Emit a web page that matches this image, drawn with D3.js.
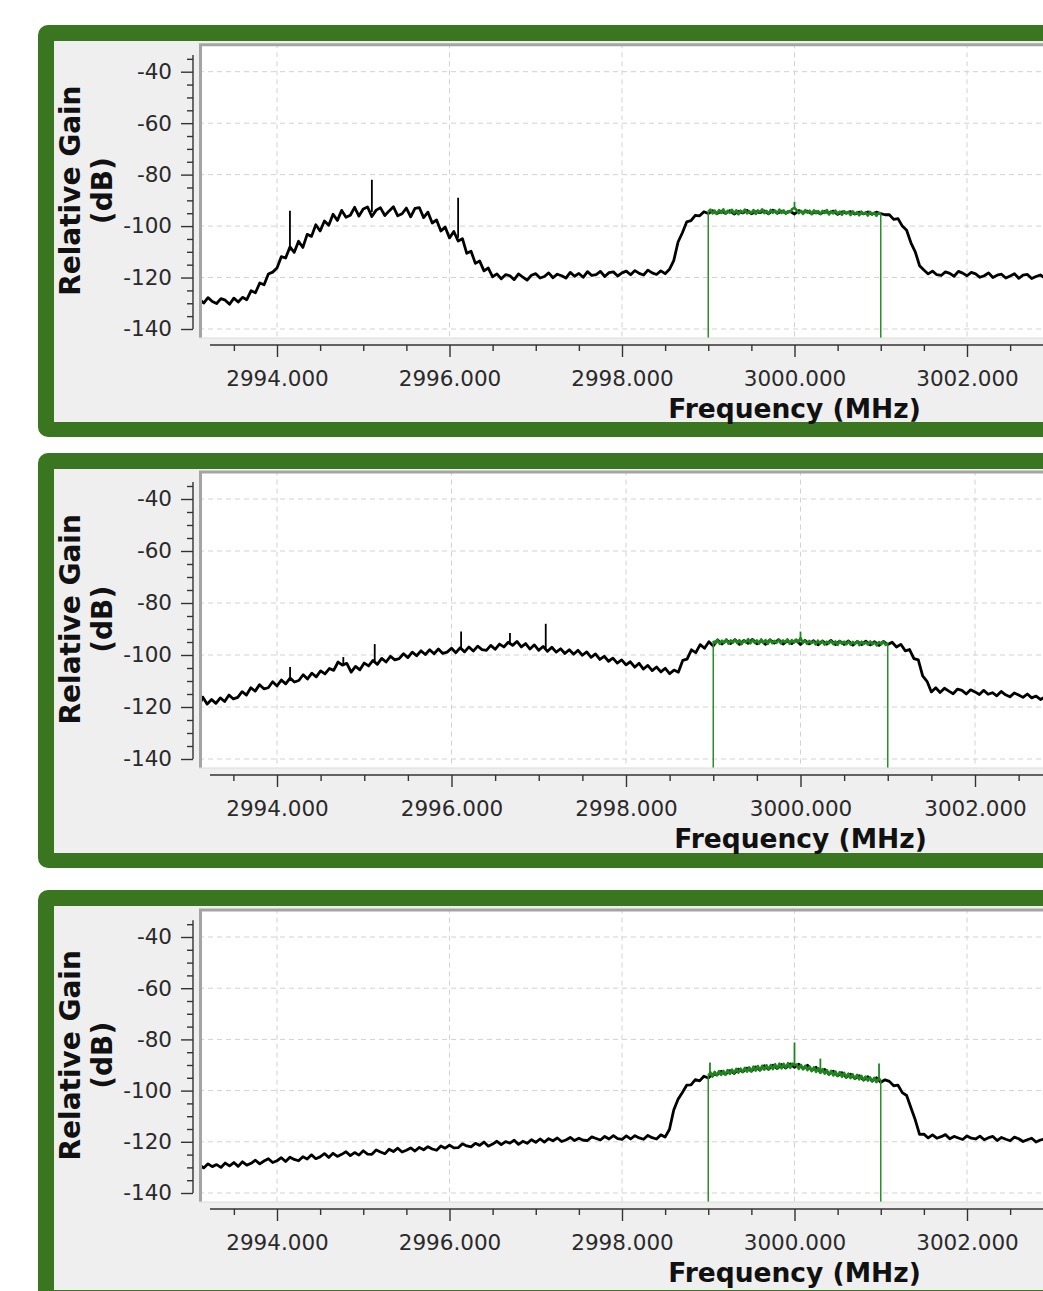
<!DOCTYPE html>
<html>
<head>
<meta charset="utf-8">
<title>Relative gain spectra</title>
<script src="https://cdn.jsdelivr.net/npm/d3@7"></script>
<style>
  body { margin: 0; background: #fff; }
  svg { display: block; font-family: "DejaVu Sans", sans-serif; }
</style>
</head>
<body>
<script>
// sampling grid of the traces (MHz)
const F0 = 2993.10, DF = 0.05;     // black traces
const G0 = 2999.00, GDF = 0.025;   // green (channel) traces
const FLOOR = -170;                // green trace is off outside the channel

const yTicks = [-40, -60, -80, -100, -120, -140];
const yMinor = [-35, -45, -50, -55, -65, -70, -75, -85, -90, -95, -105, -110, -115, -125, -130, -135];
const xTicks = [2994, 2996, 2998, 3000, 3002];
const xMinor = [2993.5, 2994.5, 2995, 2995.5, 2996.5, 2997, 2997.5, 2998.5, 2999, 2999.5,
                3000.5, 3001, 3001.5, 3002.5];

// ---- panel 1 ----
const trace1 = [
  -128.4,-129.9,-127.8,-129.3,-130.1,-128.2,-128.8,-130.4,-128.0,-129.5,
  -127.7,-128.6,-125.1,-125.9,-122.1,-122.8,-118.6,-117.9,-116.3,-111.9,
  -112.4,-108.1,-110.2,-105.9,-108.3,-103.2,-104.0,-99.5,-101.9,-98.0,
  -99.7,-95.4,-97.8,-93.9,-96.6,-95.8,-92.7,-96.1,-93.4,-92.6,
  -96.3,-93.8,-92.9,-95.9,-94.1,-92.5,-96.0,-95.2,-93.0,-96.4,
  -93.1,-92.8,-96.7,-94.6,-98.8,-97.6,-101.9,-100.4,-104.6,-102.1,
  -105.8,-104.9,-110.6,-109.8,-114.5,-113.6,-117.4,-116.3,-119.7,-118.6,
  -120.5,-118.9,-119.3,-120.8,-118.6,-119.8,-121.0,-119.1,-118.5,-120.2,
  -119.6,-118.2,-120.1,-118.7,-119.3,-120.2,-118.0,-119.5,-118.4,-119.9,
  -117.7,-119.2,-118.9,-117.6,-119.6,-118.1,-117.8,-119.4,-118.2,-117.5,
  -118.9,-117.3,-118.4,-119.0,-117.1,-118.2,-118.8,-117.4,-118.5,-116.8,
  -113.4,-106.2,-102.6,-98.4,-97.9,-95.8,-96.0,-94.4,-95.1,-94.0,
  -95.1,-94.2,-95.0,-94.0,-95.3,-94.3,-94.9,-93.9,-95.2,-94.4,
  -94.8,-94.1,-95.2,-93.8,-95.0,-94.2,-94.9,-94.3,-95.3,-94.0,
  -94.7,-94.2,-95.1,-94.4,-95.2,-94.3,-94.9,-94.2,-95.4,-94.5,
  -95.0,-94.4,-95.3,-94.6,-95.2,-94.5,-95.4,-94.6,-95.2,-95.6,
  -95.6,-97.4,-97.1,-100.0,-101.6,-106.5,-110.0,-115.4,-117.1,-118.6,
  -117.5,-118.9,-119.2,-117.8,-118.4,-119.5,-117.6,-118.3,-119.3,-118.0,
  -118.6,-119.9,-119.3,-118.2,-120.0,-119.1,-118.7,-120.2,-119.4,-118.5,
  -120.3,-119.1,-118.8,-120.4,-119.6,-119.0,-120.1
];
const green1 = [
  -94.4,-93.6,-95.1,-94.0,-95.3,-93.8,-94.9,-93.5,-95.2,-94.1,
  -94.8,-93.7,-95.0,-93.9,-95.4,-94.0,-94.7,-93.6,-95.1,-94.2,
  -94.9,-93.8,-95.3,-93.9,-94.6,-93.5,-95.0,-94.1,-95.2,-93.7,
  -94.8,-94.0,-95.1,-93.6,-94.9,-93.9,-95.2,-94.2,-94.5,-93.3,
  -92.9,-93.8,-95.0,-94.1,-95.3,-93.8,-94.8,-94.0,-95.4,-93.9,
  -95.0,-94.2,-95.3,-94.1,-94.9,-93.8,-95.5,-94.3,-95.1,-94.0,
  -95.2,-94.4,-95.6,-94.2,-95.0,-94.5,-95.7,-94.3,-95.2,-94.6,
  -95.8,-94.4,-95.3,-94.7,-95.9,-94.5,-95.4,-94.8,-96.0,-94.9,
  -95.3
];
// [frequency, base dB, peak dB]
const spikes1 = [[2994.15, -109.5, -94], [2995.10, -94.5, -82], [2996.10, -104.5, -89]];
const greenSpikes1 = [[3000.00, -93.5, -90.5]];

// ---- panel 2 ----
const trace2 = [
  -120.0,-116.2,-118.9,-117.1,-118.6,-116.5,-117.9,-115.4,-116.9,-116.3,
  -114.1,-115.4,-112.6,-113.9,-111.4,-113.0,-112.6,-110.3,-111.9,-109.6,
  -111.1,-108.9,-110.4,-109.8,-107.6,-109.2,-107.0,-108.4,-106.1,-107.3,
  -105.2,-105.9,-102.7,-103.9,-103.2,-106.6,-104.4,-105.7,-103.1,-104.2,
  -102.1,-103.6,-101.3,-102.7,-100.5,-101.9,-101.4,-99.5,-101.0,-98.9,
  -100.3,-98.4,-99.8,-98.0,-99.5,-97.7,-99.4,-98.9,-97.4,-99.1,
  -97.2,-98.8,-96.9,-98.5,-96.6,-97.9,-98.2,-96.3,-97.8,-95.8,
  -96.9,-95.1,-96.3,-94.8,-96.9,-95.6,-97.7,-96.1,-98.2,-96.7,
  -98.6,-97.0,-98.9,-97.6,-99.4,-98.0,-99.7,-98.2,-100.1,-98.8,
  -100.9,-99.6,-101.7,-100.5,-102.4,-101.2,-103.1,-101.9,-103.8,-102.6,
  -104.7,-103.2,-105.4,-104.0,-106.0,-104.6,-106.5,-105.1,-107.2,-105.8,
  -106.6,-102.1,-101.6,-98.0,-99.1,-96.0,-97.4,-94.9,-96.5,-94.2,
  -95.8,-94.3,-95.6,-94.1,-95.9,-94.4,-95.5,-94.0,-95.7,-94.5,
  -95.9,-94.2,-95.4,-94.1,-95.8,-94.6,-95.6,-94.3,-96.0,-94.4,
  -95.7,-94.5,-96.1,-94.6,-95.8,-94.4,-96.0,-94.7,-95.9,-94.6,
  -96.2,-94.8,-96.0,-94.7,-96.1,-94.9,-96.3,-94.8,-96.0,-95.1,
  -96.9,-95.9,-98.4,-97.9,-101.4,-101.9,-108.0,-110.1,-114.2,-112.6,
  -114.4,-112.8,-113.9,-114.9,-113.1,-113.6,-115.0,-113.4,-114.2,-115.2,
  -113.6,-115.1,-114.5,-115.7,-114.0,-115.3,-116.1,-114.6,-115.4,-116.3,
  -115.0,-116.5,-115.8,-117.1,-116.2,-115.7,-117.3
];
const green2 = [
  -94.6,-95.5,-94.2,-95.7,-94.5,-95.3,-94.0,-95.6,-94.4,-95.2,
  -94.1,-95.4,-94.3,-95.8,-94.5,-95.1,-93.9,-95.5,-94.2,-95.3,
  -94.4,-95.6,-94.0,-95.2,-94.3,-95.7,-94.1,-95.4,-94.6,-95.3,
  -94.2,-95.5,-94.4,-95.1,-94.0,-95.6,-94.3,-95.2,-94.1,-94.9,
  -93.5,-95.3,-94.5,-95.7,-94.6,-95.4,-94.8,-95.9,-94.5,-95.6,
  -94.7,-96.0,-94.9,-95.5,-94.6,-95.8,-94.8,-96.1,-94.7,-95.6,
  -94.9,-95.9,-94.8,-96.0,-95.0,-95.7,-94.7,-96.2,-94.9,-95.8,
  -95.1,-96.0,-94.8,-95.9,-95.2,-96.3,-95.0,-95.8,-94.9,-96.1,
  -95.4
];
const spikes2 = [[2994.15, -110, -104.6], [2994.76, -103.5, -100.8], [2995.12, -103, -95.8],
                 [2996.11, -98, -91], [2996.67, -96, -91.5], [2997.08, -97.5, -88]];
const greenSpikes2 = [[3000.00, -94.5, -91]];

// ---- panel 3 ----
const trace3 = [
  -129.0,-130.2,-128.6,-129.7,-128.9,-130.0,-128.3,-129.4,-128.1,-129.6,
  -127.8,-129.1,-128.4,-127.2,-128.6,-127.5,-126.6,-128.1,-127.4,-126.2,
  -127.7,-126.0,-126.9,-127.4,-125.8,-126.7,-125.1,-126.6,-125.9,-124.6,
  -126.1,-124.5,-125.7,-124.9,-123.9,-125.4,-124.2,-125.2,-123.5,-124.8,
  -124.9,-123.2,-124.0,-124.7,-122.9,-123.8,-122.5,-124.0,-123.3,-122.4,
  -123.6,-122.2,-123.1,-121.9,-122.8,-123.3,-121.6,-122.5,-121.3,-122.4,
  -122.3,-120.8,-121.6,-122.0,-120.6,-121.4,-120.1,-121.7,-120.9,-119.8,
  -121.1,-119.9,-120.5,-119.4,-121.0,-119.8,-120.6,-119.2,-120.2,-118.9,
  -120.1,-118.8,-119.6,-118.5,-119.9,-119.3,-118.3,-119.5,-118.6,-119.4,
  -119.5,-118.1,-118.7,-119.3,-117.9,-118.9,-117.6,-118.8,-119.1,-117.7,
  -118.9,-117.6,-118.5,-119.0,-117.5,-118.4,-118.9,-117.3,-118.1,-115.2,
  -107.6,-103.4,-100.7,-97.9,-97.8,-95.7,-96.2,-94.4,-95.1,-93.6,
  -93.9,-92.5,-93.6,-92.2,-93.3,-91.6,-92.7,-91.2,-92.4,-90.8,
  -92.0,-90.3,-91.7,-90.1,-91.4,-89.8,-91.2,-89.6,-90.9,-89.7,
  -91.4,-90.1,-92.1,-90.9,-92.8,-91.7,-93.6,-92.4,-94.2,-93.0,
  -94.8,-93.6,-95.3,-94.2,-95.9,-94.6,-96.3,-95.0,-96.7,-95.8,
  -96.4,-98.1,-97.9,-100.8,-101.9,-106.7,-111.4,-117.1,-117.0,-118.5,
  -117.3,-118.6,-118.0,-117.2,-118.8,-117.9,-118.5,-119.1,-117.7,-118.6,
  -118.9,-117.8,-119.2,-118.4,-117.9,-119.5,-118.3,-119.0,-119.6,-118.2,
  -118.8,-119.9,-119.2,-118.6,-120.1,-119.3,-118.9
];
const green3 = [
  -94.3,-92.9,-94.5,-92.7,-94.0,-92.4,-93.9,-92.3,-93.8,-92.0,
  -93.5,-91.8,-93.2,-91.5,-93.0,-91.4,-92.7,-91.1,-92.6,-90.9,
  -92.5,-90.6,-92.2,-90.4,-92.1,-90.3,-91.8,-90.1,-91.7,-90.0,
  -91.6,-89.7,-91.4,-89.5,-91.3,-89.6,-91.0,-89.3,-91.1,-89.5,
  -90.0,-89.8,-91.5,-90.0,-91.7,-90.3,-92.0,-90.6,-92.4,-90.9,
  -92.7,-91.2,-93.1,-91.6,-93.4,-92.0,-93.8,-92.3,-94.1,-92.6,
  -94.3,-92.8,-94.6,-93.1,-94.8,-93.4,-95.1,-93.7,-95.4,-93.9,
  -95.6,-94.2,-95.9,-94.5,-96.1,-94.8,-96.4,-95.0,-96.7,-95.3,
  -96.0
];
const spikes3 = [];
const greenSpikes3 = [[2999.02, -94, -89], [3000.00, -90.5, -81.2], [3000.30, -92, -87.5], [3000.98, -95.5, -89.4]];

// ---- layout ----
const W = 1043, H = 1291;
const panels = [
  {top: 25,  bottom: 437,  y40: 71.7, y140: 329,  x2994: 277, x3002: 967,
   trace: trace1, green: green1, spikes: spikes1, gSpikes: greenSpikes1},
  {top: 453, bottom: 868,  y40: 499,  y140: 759,  x2994: 277, x3002: 975,
   trace: trace2, green: green2, spikes: spikes2, gSpikes: greenSpikes2},
  {top: 890, bottom: 1305, y40: 937,  y140: 1193, x2994: 277, x3002: 967,
   trace: trace3, green: green3, spikes: spikes3, gSpikes: greenSpikes3}
];

const svg = d3.select("body").append("svg")
  .attr("width", W)
  .attr("height", H);

panels.forEach(drawPanel);

function drawPanel(p, i) {
  let g = svg.append("g");

  // green frame + grey widget background
  g.append("rect")
    .attr("x", 38).attr("y", p.top)
    .attr("width", 1100).attr("height", p.bottom - p.top)
    .attr("rx", 10)
    .attr("fill", "#3a761f");
  g.append("rect")
    .attr("x", 54).attr("y", p.top + 16)
    .attr("width", 1100).attr("height", p.bottom - p.top - 31)
    .attr("fill", "#efefef");

  let x = d3.scaleLinear().domain([2994, 3002]).range([p.x2994, p.x3002]);
  let y = d3.scaleLinear().domain([-140, -40]).range([p.y140, p.y40]);

  let cLeft = 199, cTop = p.y40 - 28.4, cBot = p.y140 + 9;

  // plot canvas
  g.append("rect")
    .attr("x", cLeft).attr("y", cTop)
    .attr("width", 1000).attr("height", cBot - cTop)
    .attr("fill", "#fff");

  svg.append("clipPath").attr("id", "clip" + i)
    .append("rect")
    .attr("x", cLeft + 2).attr("y", cTop + 2)
    .attr("width", 1000).attr("height", cBot - cTop - 2);

  let plot = g.append("g").attr("clip-path", "url(#clip" + i + ")");

  // dashed grid
  plot.selectAll(".gx").data(xTicks).enter().append("line")
    .attr("x1", d => x(d)).attr("x2", d => x(d))
    .attr("y1", cTop).attr("y2", cBot)
    .attr("stroke", "#d2d2d2").attr("stroke-dasharray", "5,4");
  plot.selectAll(".gy").data(yTicks).enter().append("line")
    .attr("x1", cLeft).attr("x2", cLeft + 1000)
    .attr("y1", d => y(d)).attr("y2", d => y(d))
    .attr("stroke", "#d2d2d2").attr("stroke-dasharray", "5,4");

  let line = d3.line()
    .x(d => x(d[0]))
    .y(d => y(d[1]));

  // black trace
  let pts = p.trace.map((v, k) => [F0 + k * DF, v]);
  plot.append("path")
    .datum(pts)
    .attr("fill", "none")
    .attr("stroke", "#000")
    .attr("stroke-width", 2.8)
    .attr("stroke-linejoin", "round")
    .attr("d", line);
  plot.selectAll(".sp").data(p.spikes).enter().append("line")
    .attr("x1", d => x(d[0])).attr("x2", d => x(d[0]))
    .attr("y1", d => y(d[1])).attr("y2", d => y(d[2]))
    .attr("stroke", "#000").attr("stroke-width", 1.8);

  // green trace (channel only), dropping to the floor at both channel edges
  let gpts = p.green.map((v, k) => [G0 + k * GDF, v]);
  let edges = [gpts[0], gpts[gpts.length - 1]];
  plot.selectAll(".edge").data(edges).enter().append("line")
    .attr("x1", d => x(d[0])).attr("x2", d => x(d[0]))
    .attr("y1", d => y(d[1])).attr("y2", y(FLOOR))
    .attr("stroke", "#2a8f2a").attr("stroke-width", 1.5);
  plot.append("path")
    .datum(gpts)
    .attr("fill", "none")
    .attr("stroke", "#1f861f")
    .attr("stroke-width", 2.6)
    .attr("stroke-linejoin", "round")
    .attr("d", line);
  plot.selectAll(".gsp").data(p.gSpikes).enter().append("line")
    .attr("x1", d => x(d[0])).attr("x2", d => x(d[0]))
    .attr("y1", d => y(d[1])).attr("y2", d => y(d[2]))
    .attr("stroke", "#1f861f").attr("stroke-width", 1.8);

  // sunken canvas frame
  g.append("path")
    .attr("d", `M${cLeft + 1.5},${cBot} V${cTop + 1.5} H${cLeft + 1000}`)
    .attr("fill", "none").attr("stroke", "#a4a4a4").attr("stroke-width", 3);
  g.append("line")
    .attr("x1", cLeft).attr("x2", cLeft + 1000)
    .attr("y1", cBot).attr("y2", cBot)
    .attr("stroke", "#dcdcdc");

  // y axis
  let yAxisX = 193;
  let ya = g.append("g").attr("transform", `translate(${yAxisX},0)`)
    .call(d3.axisLeft(y).tickValues(yTicks).tickSize(12).tickPadding(9)
      .tickFormat(d => String(d)));
  ya.append("g").call(d3.axisLeft(y).tickValues(yMinor).tickSize(6).tickFormat(""));
  ya.selectAll(".domain").remove();
  ya.append("line")
    .attr("x1", 0).attr("x2", 0)
    .attr("y1", y(-33.5)).attr("y2", y(-140));

  // x axis
  let xAxisY = cBot + 7;
  let xa = g.append("g").attr("transform", `translate(0,${xAxisY})`)
    .call(d3.axisBottom(x).tickValues(xTicks).tickSize(12).tickPadding(14)
      .tickFormat(d3.format(".3f")));
  xa.append("g").call(d3.axisBottom(x).tickValues(xMinor).tickSize(6).tickFormat(""));
  xa.selectAll(".domain").remove();
  xa.append("line")
    .attr("x1", 210).attr("x2", 1100)
    .attr("y1", 0).attr("y2", 0);

  [ya, xa].forEach(a => {
    a.attr("font-family", "DejaVu Sans").attr("font-size", 21.5);
    a.selectAll("text").attr("fill", "#2a2a2a");
    a.selectAll("line").attr("stroke", "#333").attr("stroke-width", 1.4);
  });

  // axis titles
  g.append("text")
    .attr("x", x(3000)).attr("y", xAxisY + 73)
    .attr("text-anchor", "middle")
    .attr("font-weight", "bold").attr("font-size", 26.5)
    .attr("fill", "#111")
    .text("Frequency (MHz)");

  let cy = (cTop + cBot) / 2;
  g.append("text")
    .attr("transform", `translate(80,${cy}) rotate(-90)`)
    .attr("text-anchor", "middle")
    .attr("font-weight", "bold").attr("font-size", 28)
    .attr("fill", "#111")
    .text("Relative Gain");
  g.append("text")
    .attr("transform", `translate(111.5,${cy}) rotate(-90)`)
    .attr("text-anchor", "middle")
    .attr("font-weight", "bold").attr("font-size", 28)
    .attr("fill", "#111")
    .text("(dB)");
}
</script>
</body>
</html>
